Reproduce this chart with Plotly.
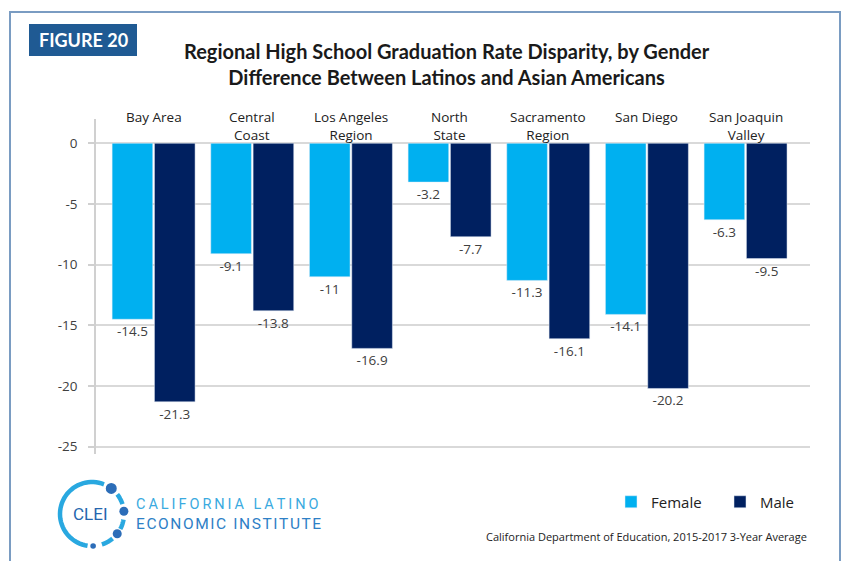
import math
import plotly.graph_objects as go

categories = ["Bay Area", "Central Coast", "Los Angeles Region", "North State",
              "Sacramento Region", "San Diego", "San Joaquin Valley"]
category_labels = ["Bay Area", "Central<br>Coast", "Los Angeles<br>Region", "North<br>State",
                   "Sacramento<br>Region", "San Diego", "San Joaquin<br>Valley"]
female = [-14.5, -9.1, -11, -3.2, -11.3, -14.1, -6.3]
male = [-21.3, -13.8, -16.9, -7.7, -16.1, -20.2, -9.5]
y_ticks = [0, -5, -10, -15, -20, -25]

W, H = 844, 561
L, R, T, B = 96, 810, 119, 454


def px(x):
    return (x - L) / (R - L)


def py(y):
    return 1 - (y - T) / (B - T)


FEMALE_C = "#00B0F0"
MALE_C = "#002060"
TXT = "#404040"

fig = go.Figure()
fig.add_trace(go.Bar(x=list(range(len(categories))), y=female, name="Female",
                     marker_color=FEMALE_C, text=[f"{v:g}" for v in female],
                     textposition="outside", cliponaxis=False,
                     textfont=dict(family="Open Sans", size=13.5, color=TXT),
                     hovertext=categories))
fig.add_trace(go.Bar(x=list(range(len(categories))), y=male, name="Male",
                     marker_color=MALE_C, text=[f"{v:g}" for v in male],
                     textposition="outside", cliponaxis=False,
                     textfont=dict(family="Open Sans", size=13.5, color=TXT),
                     hovertext=categories))

shapes = []
annotations = []


def note(text, x, y, xa="center", ya="middle", **kw):
    d = dict(text=text, xref="paper", yref="paper", x=px(x), y=py(y),
             xanchor=xa, yanchor=ya, showarrow=False)
    d.update(kw)
    annotations.append(d)


# outer frame
shapes.append(dict(type="rect", xref="paper", yref="paper",
                   x0=px(10), x1=px(840), y0=py(575), y1=py(12),
                   line=dict(color="#7A9CC2", width=2), fillcolor="rgba(0,0,0,0)", layer="below"))
# FIGURE box
shapes.append(dict(type="rect", xref="paper", yref="paper",
                   x0=px(29), x1=px(137), y0=py(56), y1=py(24),
                   line=dict(width=0), fillcolor="#1F5A93"))
note("<b>FIGURE 20</b>", 83, 40, font=dict(family="Lato", size=18, color="white"))
# title
note("<b>Regional High School Graduation Rate Disparity, by Gender</b><br>"
     "<b>Difference Between Latinos and Asian Americans</b>", 447, 64, align="center",
     font=dict(family="Lato", size=20, color="#1A1A1A"))
# category labels on top
for i, lab in enumerate(category_labels):
    annotations.append(dict(text=lab, xref="x", yref="paper", x=i, y=py(106),
                            xanchor="center", yanchor="top", showarrow=False, align="center",
                            font=dict(family="Open Sans", size=13.5, color="#222222")))
# source
note("California Department of Education, 2015-2017 3-Year Average", 809, 536, xa="right",
     font=dict(family="Open Sans", size=11, color="#222222"))

# logo ring
cx, cy, r = 92, 514, 32
RING = "#29A8E0"
DOT = "#2C6DB8"


def arc_path(a0, a1, n=40):
    pts = []
    for k in range(n + 1):
        a = math.radians(a0 + (a1 - a0) * k / n)
        pts.append((px(cx + r * math.cos(a)), py(cy - r * math.sin(a))))
    return "M" + " L".join(f"{x:.5f},{y:.5f}" for x, y in pts)


for a0, a1 in [(68, 262), (18, 38), (-28, -10), (-72, -50)]:
    shapes.append(dict(type="path", xref="paper", yref="paper", path=arc_path(a0, a1),
                       line=dict(color=RING, width=4.5)))
for ang, rad in [(53, 5.5), (5, 4.5), (-38, 4.5), (-88, 2.8)]:
    dx = cx + r * math.cos(math.radians(ang))
    dy = cy - r * math.sin(math.radians(ang))
    shapes.append(dict(type="circle", xref="paper", yref="paper",
                       x0=px(dx - rad), x1=px(dx + rad), y0=py(dy + rad), y1=py(dy - rad),
                       line=dict(width=0), fillcolor=DOT))
note("CLEI", 90, 514, font=dict(family="Roboto", size=17, color="#2566AE"))

note("\u2009".join("CALIFORNIA LATINO"), 134, 505, xa="left",
     font=dict(family="Roboto", size=14.5, color="#3AAAE0"))
note("\u200a".join("ECONOMIC INSTITUTE"), 134, 524, xa="left",
     font=dict(family="Roboto", size=15.5, color="#2E80C6"))

per = 98.66
c0 = 153.6
fig.update_layout(
    width=W, height=H,
    margin=dict(l=L, r=W - R, t=T, b=H - B, autoexpand=False),
    paper_bgcolor="white", plot_bgcolor="white",
    barmode="group", bargap=0.142, bargroupgap=0.04,
    showlegend=True,
    legend=dict(orientation="h", x=px(611), y=py(502), xanchor="left", yanchor="middle",
                font=dict(family="Open Sans", size=15, color="#222222"),
                entrywidth=64, entrywidthmode="pixels", bgcolor="rgba(0,0,0,0)"),
    xaxis=dict(range=[(L - c0) / per, (R - c0) / per], showticklabels=False, showgrid=False,
               zeroline=False, showline=False, ticks="", fixedrange=True),
    yaxis=dict(range=[-25.6, 2.0], tickvals=y_ticks, ticktext=[str(v) for v in y_ticks],
               showgrid=True, gridcolor="#D9D9D9", gridwidth=1.5, zeroline=False,
               showline=True, linecolor="#D0D0D0", linewidth=1.5,
               ticks="outside", ticklen=6, tickcolor="#D0D0D0", tickwidth=1.5,
               ticklabelstandoff=8, fixedrange=True,
               tickfont=dict(family="Open Sans", size=13.5, color=TXT)),
    shapes=shapes, annotations=annotations,
)

fig.write_html("out.html", config={"displayModeBar": False},
               post_script="document.body.style.margin='0px';document.body.style.overflow='hidden';")
